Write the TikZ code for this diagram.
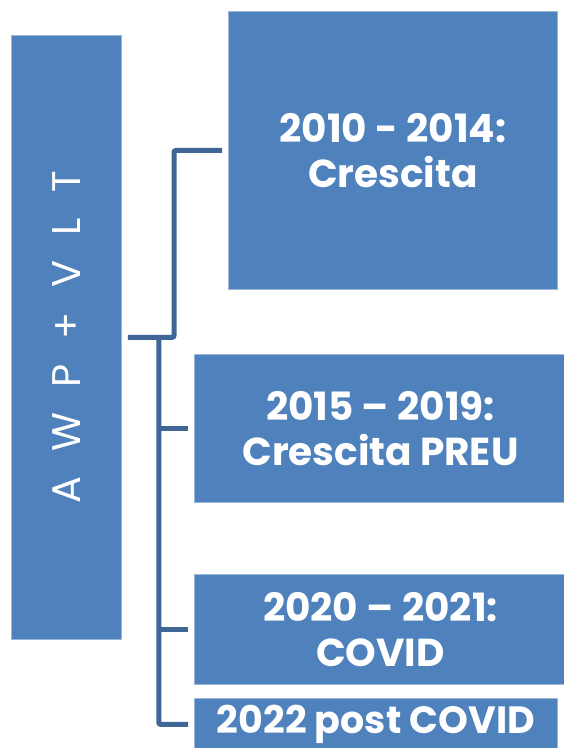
\documentclass[tikz,border=0pt]{standalone}
\usepackage{fontspec}
\setmainfont{Poppins}
\usetikzlibrary{calc}
\definecolor{boxblue}{HTML}{4F81BD}
\definecolor{boxedge}{HTML}{9CB6DA}
\definecolor{connblue}{HTML}{3F6696}
\tikzset{
  tbox/.style={rectangle, fill=boxblue, draw=boxedge, line width=0.8pt, anchor=north west,
    inner sep=0pt, text=white, align=center, font=\bfseries\fontsize{39}{45}\selectfont},
  conn/.style={draw=connblue, line width=5pt, rounded corners=2pt},
}
\begin{document}
\begin{tikzpicture}[x=1pt,y=-1pt]
\useasboundingbox (0,0) rectangle (564,748);
\node[tbox, minimum width=110pt, minimum height=604pt] (L) at (11,35) {};
\node[rotate=90, text=white, font=\fontsize{40}{40}\selectfont] at (L.center)
  {A\hspace{25pt}W\hspace{25pt}P\hspace{25pt}+\hspace{25pt}V\hspace{25pt}L\hspace{25pt}T};
\node[tbox, minimum width=329pt, minimum height=278pt] (b1) at (228,11) {2010 - 2014:\\Crescita};
\node[tbox, minimum width=372pt, minimum height=148pt] (b2) at (194,354) {2015 – 2019:\\Crescita PREU};
\node[tbox, minimum width=372pt, minimum height=110pt] (b3) at (194,574) {2020 – 2021:\\COVID};
\node[tbox, minimum width=363pt, minimum height=52pt, font=\bfseries\fontsize{38}{40}\selectfont] (b4) at (194,698) {2022 post COVID};
\path ([xshift=6pt]L.east) ++(31,0) coordinate (j);
\draw[conn] ([xshift=6pt]L.east) -| ([xshift=-54pt]b1.west) -- ([xshift=-6pt]b1.west);
\draw[conn] (j) |- ([xshift=-6pt]b4.west);
\draw[conn] (j |- b2.west) -- ([xshift=-6pt]b2.west);
\draw[conn] (j |- b3.west) -- ([xshift=-6pt]b3.west);
\end{tikzpicture}
\end{document}
